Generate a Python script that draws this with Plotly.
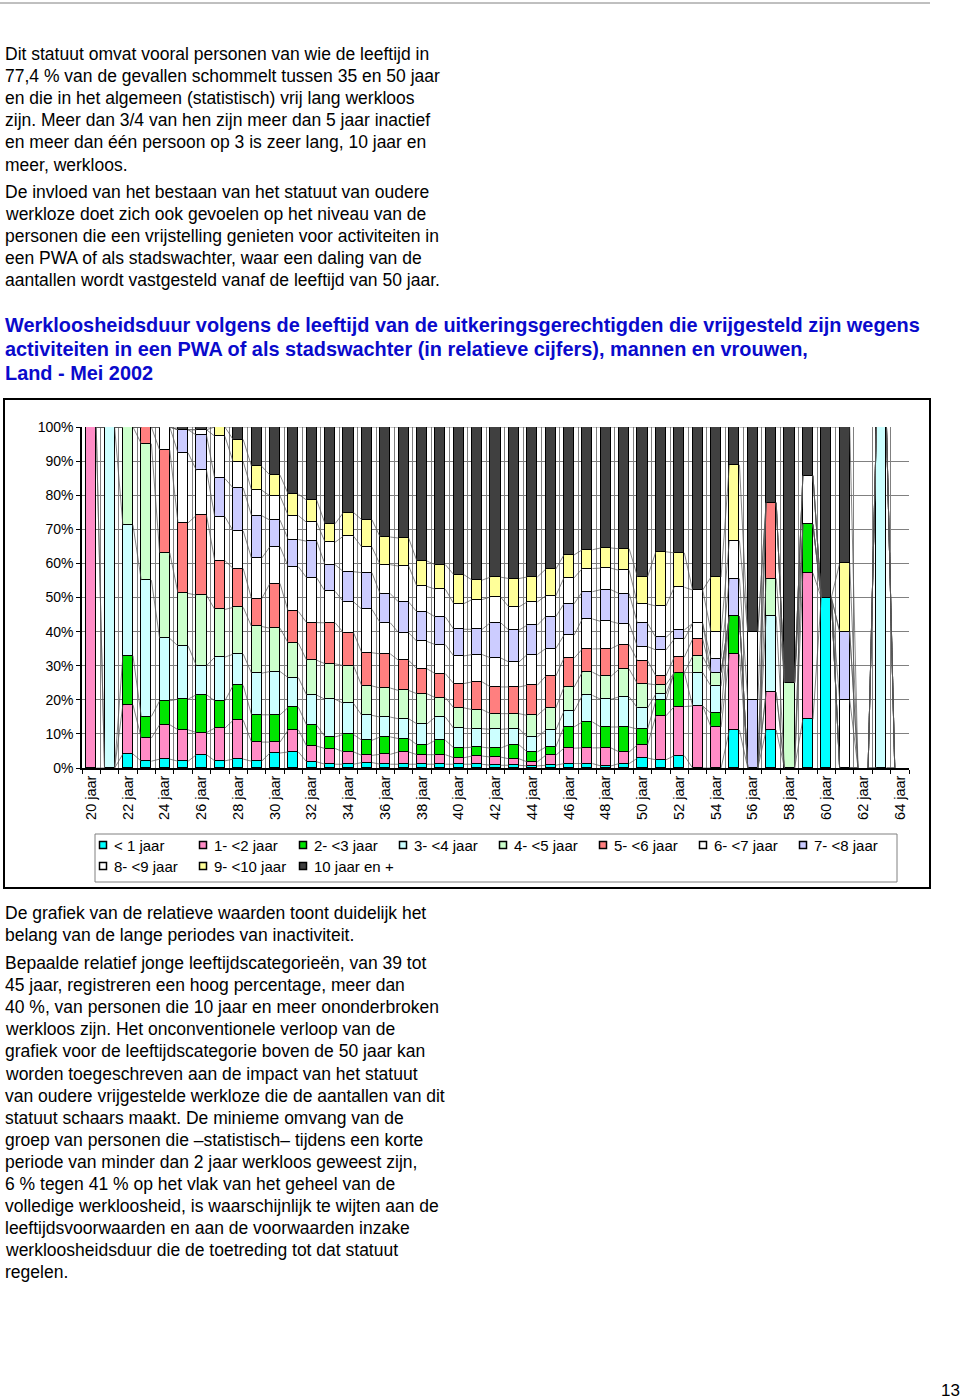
import numpy as np
import plotly.graph_objects as go

# ---------------- data ----------------
ages = list(range(20, 65))
tick_ages = list(range(20, 65, 2))
tick_labels = [f"{a} jaar" for a in tick_ages]

series_names = ["< 1 jaar", "1- <2 jaar", "2- <3 jaar", "3- <4 jaar", "4- <5 jaar",
                "5- <6 jaar", "6- <7 jaar", "7- <8 jaar", "8- <9 jaar", "9- <10 jaar",
                "10 jaar en +"]
series_colors = ["#00FFFF", "#FF8CC6", "#00E400", "#CCFFFF", "#CCFFCC",
                 "#FF7F7F", "#FFFFFF", "#CCCCFF", "#FFFFFF", "#FFFF99", "#404040"]

# values per age 20..64 (relative share, %)
lt1 = [0, 0, 4.1, 2.0, 2.6, 2.0, 3.9, 2.1, 2.6, 2.0,
       4.4, 4.7, 1.8, 1.1, 1.1, 1.6, 1.1, 1.1, 1.1, 1.1,
       1.1, 1.1, 0.8, 0.8, 0.6, 0.8, 1.3, 1.3, 0.6, 1.3,
       2.9, 2.4, 3.6, 0, 0, 11.1, 0, 11.1, 0, 14.3,
       50, 0, 0, 0, 0]
y1_2 = [100, 0, 14.4, 6.8, 10.1, 9.2, 6.5, 9.6, 11.4, 5.6,
        3.2, 6.5, 4.6, 4.6, 3.6, 2.1, 2.9, 3.6, 2.8, 2.8,
        1.9, 2.4, 2.4, 1.9, 1.2, 2.9, 4.5, 4.6, 5.3, 3.4,
        3.9, 12.9, 14.4, 18.2, 12, 22.2, 0, 11.1, 0, 42.9,
        0, 0, 0, 0, 0]
y2_3 = [0, 0, 14.4, 6.3, 7.0, 9.0, 11.1, 8.0, 10.2, 8.0,
        8.0, 6.6, 6.1, 3.4, 5.1, 4.4, 5.1, 3.9, 2.9, 4.2,
        2.9, 2.6, 2.6, 4.1, 2.9, 2.4, 6.2, 7.6, 6.1, 7.3,
        4.6, 4.5, 10.0, 0, 4, 11.1, 0, 0, 0, 14.3,
        0, 0, 0, 0, 0]
y3_4 = [0, 100, 38.3, 40.0, 18.3, 15.6, 8.5, 12.8, 9.2, 12.2,
        12.7, 8.7, 8.8, 11.0, 9.1, 7.3, 5.8, 5.8, 6.1, 6.8,
        5.7, 5.4, 5.5, 4.7, 4.4, 4.9, 4.6, 7.8, 8.1, 8.8,
        6.2, 1.9, 0, 9.8, 8, 0, 0, 22.2, 0, 0,
        0, 0, 0, 100, 0]
y4_5 = [0, 0, 28.8, 40.0, 25.1, 15.4, 20.7, 14.0, 13.7, 13.7,
        12.7, 10.1, 10.2, 10.4, 11.0, 8.6, 8.5, 8.3, 8.8, 5.7,
        6.0, 5.6, 4.6, 4.4, 6.3, 6.5, 7.0, 6.8, 6.7, 8.1,
        7.1, 2.7, 0, 4.7, 4, 0, 0, 11.1, 25, 0,
        0, 0, 0, 0, 0]
y5_6 = [0, 0, 0, 4.9, 30.1, 20.7, 23.4, 14.3, 11.4, 8.1,
        13.1, 9.3, 11.0, 12.0, 9.7, 9.7, 10.0, 8.8, 7.3, 7.0,
        7.1, 8.1, 7.8, 7.8, 8.8, 9.3, 8.5, 6.8, 8.1, 7.2,
        6.8, 2.6, 4.5, 5.1, 0, 0, 0, 22.2, 0, 0,
        0, 0, 0, 0, 0]
y6_7 = [0, 0, 0, 0, 6.8, 20.5, 13.2, 12.9, 11.0, 11.9,
        10.8, 13.1, 13.1, 9.2, 9.0, 12.7, 9.1, 8.1, 8.0, 8.5,
        8.1, 8.0, 8.5, 7.3, 9.0, 8.1, 6.7, 8.8, 8.0, 6.1,
        4.1, 7.6, 5.3, 4.6, 0, 0, 0, 0, 0, 14.3,
        0, 20, 0, 0, 0]
y7_8 = [0, 0, 0, 0, 0, 6.8, 10.3, 11.2, 12.6, 12.5,
        7.8, 8.0, 10.7, 7.8, 8.8, 10.7, 8.5, 9.0, 8.6, 8.1,
        7.8, 7.4, 10.3, 9.3, 8.6, 9.3, 9.2, 8.0, 9.3, 8.8,
        6.8, 3.7, 2.7, 0, 4, 11.1, 20, 0, 0, 0,
        0, 20, 0, 0, 0]
y8_9 = [0, 0, 0, 0, 0, 0, 1.6, 12.4, 7.7, 7.5,
        7.1, 7.0, 5.5, 6.6, 10.4, 7.5, 8.5, 10.5, 7.5, 8.1,
        7.5, 8.7, 7.5, 6.8, 6.8, 6.1, 7.6, 6.8, 6.3, 6.8,
        5.7, 9.2, 12.5, 9.8, 8, 11.1, 20, 0, 0, 0,
        0, 0, 0, 0, 0]
y9_10 = [0, 0, 0, 0, 0, 0, 0, 2.7, 6.5, 7.0,
         6.1, 6.3, 6.5, 5.4, 6.9, 8.0, 8.1, 8.2, 7.4, 7.2,
         8.5, 5.7, 5.8, 8.3, 7.3, 7.8, 6.7, 5.5, 5.9, 6.3,
         8.0, 15.9, 10.1, 0, 16, 22.2, 0, 0, 0, 0,
         0, 20, 0, 0, 0]
y10plus = [0, 0, 0, 0, 0, 0.8, 0.8, 0, 3.7, 11.5,
           14.1, 19.7, 21.4, 28.3, 25.0, 27.1, 32.2, 32.5, 39.2, 40.3,
           43.2, 44.8, 43.9, 44.3, 43.9, 41.6, 37.4, 36.0, 35.4, 35.6,
           43.9, 36.6, 36.9, 47.8, 44, 11.1, 60, 22.2, 75, 14.3,
           50, 40, 0, 0, 0]

series_values = [lt1, y1_2, y2_3, y3_4, y4_5, y5_6, y6_7, y7_8, y8_9, y9_10, y10plus]

y_ticks = list(range(0, 101, 10))
y_ticklabels = [f"{v}%" for v in y_ticks]

# ---------------- layout geometry (pixels) ----------------
W, H = 960, 1399
PL, PR, PT, PB = 82, 909, 427, 768   # plot area


def px(x):
    return (x - PL) / (PR - PL)


def py(y):
    return (PB - y) / (PB - PT)


# 100% normalisation
vals = np.array(series_values, dtype=float)
tot = vals.sum(axis=0)
pct = np.where(tot > 0, vals / np.where(tot > 0, tot, 1) * 100.0, 0.0)
cum = np.cumsum(pct, axis=0)

BAR_W = 0.55

fig = go.Figure()
for k, name in enumerate(series_names):
    yk = [v if v > 0 else None for v in pct[k]]
    fig.add_trace(go.Bar(
        x=ages, y=yk, width=BAR_W, name=name, showlegend=False,
        marker=dict(color=series_colors[k], line=dict(color="black", width=1.5)),
        hovertemplate=name + ": %{y:.1f}%<extra></extra>",
    ))

# Excel style series lines joining the segment tops
lx, ly = [], []
for k in range(len(series_names)):
    for i in range(len(ages) - 1):
        lx += [ages[i] + BAR_W / 2, ages[i + 1] - BAR_W / 2, None]
        ly += [cum[k][i], cum[k][i + 1], None]
fig.add_trace(go.Scatter(x=lx, y=ly, mode="lines", showlegend=False, hoverinfo="skip",
                         line=dict(color="#555555", width=0.7)))

FONT = "Liberation Sans, Arial, sans-serif"
annotations = []
shapes = []


def text(x, y, s, size=17.5, color="black", bold=False):
    annotations.append(dict(
        x=px(x), y=py(y), xref="paper", yref="paper", xanchor="left", yanchor="middle",
        text=("<b>%s</b>" % s) if bold else s, showarrow=False,
        font=dict(family=FONT, size=size, color=color), align="left"))


para1 = ["Dit statuut omvat vooral personen van wie de leeftijd in",
         "77,4 % van de gevallen schommelt tussen 35 en 50 jaar",
         "en die in het algemeen (statistisch) vrij lang werkloos",
         "zijn. Meer dan 3/4 van hen zijn meer dan 5 jaar inactief",
         "en meer dan één persoon op 3 is zeer lang, 10 jaar en",
         "meer, werkloos."]
para2 = ["De invloed van het bestaan van het statuut van oudere",
         "werkloze doet zich ook gevoelen op het niveau van de",
         "personen die een vrijstelling genieten voor activiteiten in",
         "een PWA of als stadswachter, waar een daling van de",
         "aantallen wordt vastgesteld vanaf de leeftijd van 50 jaar."]
title = ["Werkloosheidsduur volgens de leeftijd van de uitkeringsgerechtigden die vrijgesteld zijn wegens",
         "activiteiten in een PWA of als stadswachter (in relatieve cijfers), mannen en vrouwen,",
         "Land - Mei 2002"]
para3 = ["De grafiek van de relatieve waarden toont duidelijk het",
         "belang van de lange periodes van inactiviteit."]
para4 = ["Bepaalde relatief jonge leeftijdscategorieën, van 39 tot",
         "45 jaar, registreren een hoog percentage, meer dan",
         "40 %, van personen die 10 jaar en meer ononderbroken",
         "werkloos zijn. Het onconventionele verloop van de",
         "grafiek voor de leeftijdscategorie boven de 50 jaar kan",
         "worden toegeschreven aan de impact van het statuut",
         "van oudere vrijgestelde werkloze die de aantallen van dit",
         "statuut schaars maakt. De minieme omvang van de",
         "groep van personen die –statistisch– tijdens een korte",
         "periode van minder dan 2 jaar werkloos geweest zijn,",
         "6 % tegen 41 % op het vlak van het geheel van de",
         "volledige werkloosheid, is waarschijnlijk te wijten aan de",
         "leeftijdsvoorwaarden en aan de voorwaarden inzake",
         "werkloosheidsduur die de toetreding tot dat statuut",
         "regelen."]

for i, s in enumerate(para1):
    text(3, 54 + 22.1 * i, s)
for i, s in enumerate(para2):
    text(3, 192 + 22.1 * i, s)
for i, s in enumerate(title):
    text(3, 325 + 24 * i, s, size=19.9, color="#0A0ACC", bold=True)
for i, s in enumerate(para3):
    text(3, 913 + 22 * i, s)
for i, s in enumerate(para4):
    text(3, 963 + 22.1 * i, s)
text(939, 1390, "13", size=17)

# top rule
shapes.append(dict(type="line", xref="paper", yref="paper", x0=px(0), x1=px(930), y0=py(3), y1=py(3),
                   line=dict(color="#808080", width=1)))
# chart frame
shapes.append(dict(type="rect", xref="paper", yref="paper", x0=px(4), x1=px(930), y0=py(399), y1=py(888),
                   line=dict(color="black", width=2)))
# legend box
shapes.append(dict(type="rect", xref="paper", yref="paper", x0=px(95), x1=px(897), y0=py(834), y1=py(882),
                   line=dict(color="#808080", width=1)))
for k, name in enumerate(series_names):
    row, col = divmod(k, 8)
    cx, cy = 103 + 100 * col, 845 + 21 * row
    shapes.append(dict(type="rect", xref="paper", yref="paper",
                       x0=px(cx - 3.5), x1=px(cx + 3.5), y0=py(cy + 3.5), y1=py(cy - 3.5),
                       fillcolor=series_colors[k], line=dict(color="black", width=1.5)))
    text(cx + 9, cy, name, size=15)

fig.update_layout(
    width=W, height=H,
    margin=dict(l=PL, r=W - PR, t=PT, b=H - PB, pad=0),
    paper_bgcolor="white", plot_bgcolor="white",
    barmode="stack", bargap=0,
    annotations=annotations, shapes=shapes,
    font=dict(family=FONT, size=14, color="black"),
    showlegend=False,
)
fig.update_xaxes(
    range=[19.5, 64.5], tickmode="array", tickvals=tick_ages, ticktext=tick_labels,
    tickangle=-90, ticks="", showgrid=False, zeroline=False,
    showline=True, linecolor="black", linewidth=1.5,
    tickfont=dict(family=FONT, size=14.5, color="black"),
    minor=dict(tickmode="linear", tick0=19.5, dtick=1, ticks="outside", ticklen=4,
               tickcolor="black", showgrid=True, gridcolor="#808080", gridwidth=1),
)
fig.update_yaxes(
    range=[0, 100], tickmode="array", tickvals=y_ticks, ticktext=y_ticklabels,
    ticks="outside", ticklen=4, tickcolor="black",
    showgrid=True, gridcolor="#808080", gridwidth=1, zeroline=False,
    showline=True, linecolor="black", linewidth=1.5,
    tickfont=dict(family=FONT, size=14, color="black"),
)

fig.write_html("out.html",
               config={"displayModeBar": False},
               post_script="document.body.style.margin='0px';document.body.style.overflow='hidden';")
